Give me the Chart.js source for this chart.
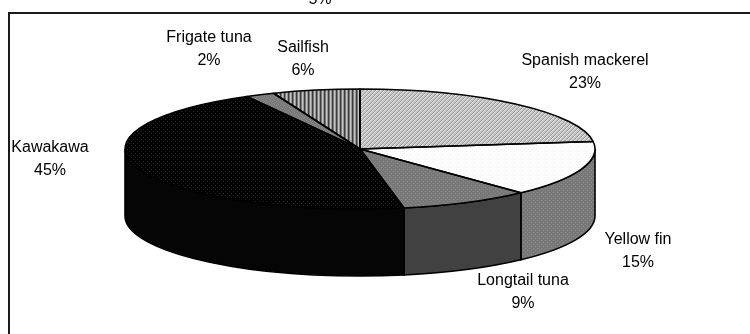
<!DOCTYPE html>
<html>
<head>
<meta charset="utf-8">
<style>
  html, body { margin: 0; padding: 0; background: #fff; overflow: hidden; }
  canvas { display: block; }
</style>
<script src="https://cdn.jsdelivr.net/npm/chart.js@4"></script>
</head>
<body>
<canvas id="catchPie" width="750" height="334"></canvas>
<script>
// catch composition by species, clockwise from twelve o'clock
var species = ['Spanish mackerel', 'Yellow fin', 'Longtail tuna', 'Kawakawa', 'Frigate tuna', 'Sailfish'];
var shares = [23, 15, 9, 45, 2, 6];

// label centres, one per species
var labelX = [585, 638, 523, 50, 209, 303];
var labelY = [72, 251, 292, 159, 49, 59];

// the pie is squashed into an ellipse, the wall hangs below it
var radiusX = 235;
var radiusY = 60;
var wallDepth = 67;
var squash = radiusY / radiusX;

// grey levels used by the hatch tiles
var greys = {
  k: '#000000', d: '#262626', s: '#3c3c3c', g: '#787878', m: '#8c8c8c',
  t: '#969696', l: '#c4c4c4', p: '#e6e6e6', f: '#f0f0f0', w: '#ffffff'
};

function makeTile(rows) {
  var tile = document.createElement('canvas');
  tile.width = rows[0].length;
  tile.height = rows.length;
  var g = tile.getContext('2d');
  rows.forEach(function (row, y) {
    row.split('').forEach(function (c, x) {
      g.fillStyle = greys[c];
      g.fillRect(x, y, 1, 1);
    });
  });
  return tile;
}

var ctxPie = document.getElementById('catchPie').getContext('2d');

function patternFrom(rows, flat) {
  var pattern = ctxPie.createPattern(makeTile(rows), 'repeat');
  // undo the vertical squash on the top face so the tile stays square
  if (flat) {
    pattern.setTransform(new DOMMatrix().scale(1, 1 / squash));
  }
  return pattern;
}

var hatchLight = ['lltp', 'ltpl', 'tpll', 'pllt'];
var dotsWhite = ['wwfw', 'wwww', 'fwww', 'wwww'];
var dotsGrey = ['gmgg', 'gggg', 'gggm', 'gggg'];
var dotsBlack = ['kdkk', 'kkkk', 'kkkd', 'kkkk'];
var flatGrey = ['gmgg', 'ggmg', 'mggg', 'gggm'];
var stripes = ['sglt', 'sglt', 'sglt', 'sglt'];

var topFills = [hatchLight, dotsWhite, dotsGrey, dotsBlack, flatGrey, stripes].map(function (rows) {
  return patternFrom(rows, true);
});
// only the three slices facing the viewer show a wall
var wallFills = [null, patternFrom(dotsGrey), '#414141', '#050505', null, null];

// walks the front part of a slice along the top rim and back along the bottom
function wallPath(ctx, arc, from, to) {
  ctx.beginPath();
  ctx.ellipse(arc.x, arc.y, radiusX, radiusY, 0, from, to);
  ctx.ellipse(arc.x, arc.y + wallDepth, radiusX, radiusY, 0, to, from, true);
  ctx.closePath();
}

var pie3d = {
  id: 'pie3d',
  beforeDatasetsDraw: function (chart) {
    var ctx = chart.ctx;
    var arcs = chart.getDatasetMeta(0).data;
    ctx.save();
    ctx.lineWidth = 1.6;
    ctx.strokeStyle = '#000';
    arcs.forEach(function (arc, i) {
      if (!wallFills[i]) return;
      var from = Math.max(arc.startAngle, 0);
      var to = Math.min(arc.endAngle, Math.PI);
      wallPath(ctx, arc, from, to);
      ctx.fillStyle = wallFills[i];
      ctx.fill();
      ctx.stroke();
    });
    ctx.restore();

    // the arcs themselves get drawn flattened
    var c = arcs[0];
    ctx.save();
    ctx.translate(c.x, c.y);
    ctx.scale(1, squash);
    ctx.translate(-c.x, -c.y);
  },
  afterDatasetsDraw: function (chart) {
    var ctx = chart.ctx;
    ctx.restore();

    // outlines go on after the squash so they keep an even weight
    var arcs = chart.getDatasetMeta(0).data;
    ctx.save();
    ctx.lineWidth = 1.6;
    ctx.lineJoin = 'round';
    ctx.strokeStyle = '#000';
    arcs.forEach(function (arc) {
      ctx.beginPath();
      ctx.moveTo(arc.x, arc.y);
      ctx.ellipse(arc.x, arc.y, radiusX, radiusY, 0, arc.startAngle, arc.endAngle);
      ctx.closePath();
      ctx.stroke();
    });
    ctx.restore();
  },
  afterDraw: function (chart) {
    var ctx = chart.ctx;
    ctx.save();

    // plot frame: top and left edges only
    ctx.fillStyle = '#1a1a1a';
    ctx.fillRect(8, 12, 742, 2);
    ctx.fillRect(8, 12, 2, 322);

    ctx.font = '16px "Liberation Sans", Arial, sans-serif';
    ctx.fillStyle = '#000';
    ctx.textAlign = 'center';
    ctx.textBaseline = 'middle';
    species.forEach(function (name, i) {
      ctx.fillText(name, labelX[i], labelY[i] - 11.5);
      ctx.fillText(shares[i] + '%', labelX[i], labelY[i] + 11.5);
    });
    // label of an earlier pie, cut off by the page top
    ctx.fillText('5%', 320, 0);
    ctx.restore();
  }
};

var myPieChart = new Chart(ctxPie, {
  type: 'pie',
  data: {
    labels: species,
    datasets: [{
      data: shares,
      backgroundColor: topFills,
      borderWidth: 0,
      clip: false
    }]
  },
  options: {
    responsive: false,
    animation: false,
    radius: radiusX,
    // centres the pie at x 360, y 149
    layout: { padding: { right: 30, bottom: 36 } },
    plugins: { legend: { display: false }, tooltip: { enabled: false } },
    events: []
  },
  plugins: [pie3d]
});
</script>
</body>
</html>
